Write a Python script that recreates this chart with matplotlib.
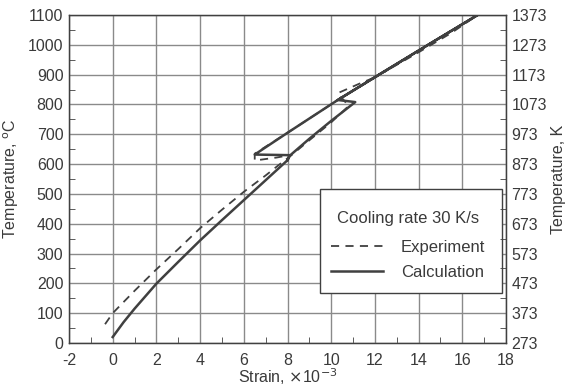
#!/usr/bin/env python3
"""Strain vs temperature on heating and cooling: experiment vs calculation."""

import matplotlib
matplotlib.use("Agg")
import matplotlib.pyplot as plt
from matplotlib.patches import Rectangle
from matplotlib.ticker import MultipleLocator

plt.rcParams["font.family"] = ["Liberation Sans", "DejaVu Sans"]
plt.rcParams["font.size"] = 11.5
plt.rcParams["axes.unicode_minus"] = False

TEXT = "#3a3a3a"
LINE = "#404040"
GRID = "#8a8a8a"

# strain (x10^-3) and temperature (deg C)
exp_strain = [-0.35, 0.0, 1.0, 2.0, 3.0, 4.0, 5.0, 6.0, 7.0, 7.6, 8.1, 9.0, 10.0,
              10.8, 10.3, 11.3, 11.9, 12.5, 14.0, 15.5, 16.7,
              14.5, 12.5, 10.3, 8.0, 6.5, 6.5, 7.5, 8.1]
exp_temp = [63, 100, 175, 247, 315, 385, 447, 507, 562, 597, 625, 680, 740,
            795, 838, 870, 888, 912, 975, 1040, 1100,
            1003, 912, 815, 705, 635, 612, 622, 630]

calc_strain = [0.0, 0.5, 1.0, 2.0, 3.0, 4.0, 5.0, 6.0, 7.0, 8.0, 8.1, 9.0, 10.0,
               11.1, 10.3, 12.3, 14.5, 16.7,
               14.5, 12.3, 10.3, 8.0, 6.5, 8.1, 8.0]
calc_temp = [20, 70, 115, 199, 272, 344, 412, 479, 546, 613, 628, 685, 745,
             808, 815, 905, 1003, 1100,
             1003, 905, 815, 705, 632, 630, 613]

x_ticks = list(range(-2, 19, 2))
y_ticks = list(range(0, 1101, 100))
kelvin_labels = [str(t + 273) for t in y_ticks]


def main() -> None:
    fig = plt.figure(figsize=(5.73, 3.92), dpi=100)
    ax = fig.add_axes([0.1204, 0.125, 0.7627, 0.8367])

    ax.plot(exp_strain, exp_temp, color=LINE, lw=1.3, ls=(0, (4.5, 3.5)),
            label="Experiment", zorder=3)
    ax.plot(calc_strain, calc_temp, color=LINE, lw=1.8, ls="-",
            label="Calculation", zorder=4)

    ax.set_xlim(-2, 18)
    ax.set_ylim(0, 1100)
    ax.set_xticks(x_ticks)
    ax.set_yticks(y_ticks)
    ax.xaxis.set_minor_locator(MultipleLocator(1))
    ax.yaxis.set_minor_locator(MultipleLocator(50))
    ax.grid(True, which="major", color=GRID, lw=1.0)
    ax.tick_params(which="major", length=0, pad=4, colors=TEXT)
    ax.tick_params(axis="x", which="major", pad=7)
    ax.tick_params(which="minor", direction="in", length=4, color=LINE)
    for spine in ax.spines.values():
        spine.set_color(LINE)
        spine.set_linewidth(1.0)

    ax.set_xlabel("Strain, $\\times$10$^{-3}$", color=TEXT, labelpad=-1)
    ax.set_ylabel("Temperature, $^{\\rm o}$C", color=TEXT, labelpad=5)

    right = ax.twinx()
    right.set_ylim(0, 1100)
    right.set_yticks(y_ticks)
    right.set_yticklabels(kelvin_labels)
    right.yaxis.set_minor_locator(MultipleLocator(50))
    right.tick_params(which="major", length=0, pad=4, colors=TEXT)
    right.tick_params(which="minor", direction="in", length=4, color=LINE)
    right.set_ylabel("Temperature, K", color=TEXT, labelpad=3)
    for spine in right.spines.values():
        spine.set_color(LINE)

    # legend frame drawn separately so the padding can differ per side
    box = Rectangle((0.574, 0.152), 0.417, 0.3175, transform=ax.transAxes,
                    facecolor="white", edgecolor=LINE, lw=1.0, zorder=9)
    ax.add_patch(box)

    leg = ax.legend(title="Cooling rate 30 K/s", loc="upper left",
                    bbox_to_anchor=(0.574, 0.435),
                    handlelength=3.1, handletextpad=1.1, labelspacing=0.62,
                    borderpad=0.66, frameon=False, fontsize=12,
                    title_fontsize=12, alignment="center", borderaxespad=0)
    leg._legend_box.sep = 9.5
    for t in leg.get_texts():
        t.set_color(TEXT)
    leg.get_title().set_color(TEXT)
    leg.set_zorder(10)

    fig.savefig("out.png", dpi=100)
    plt.close(fig)


if __name__ == "__main__":
    main()
